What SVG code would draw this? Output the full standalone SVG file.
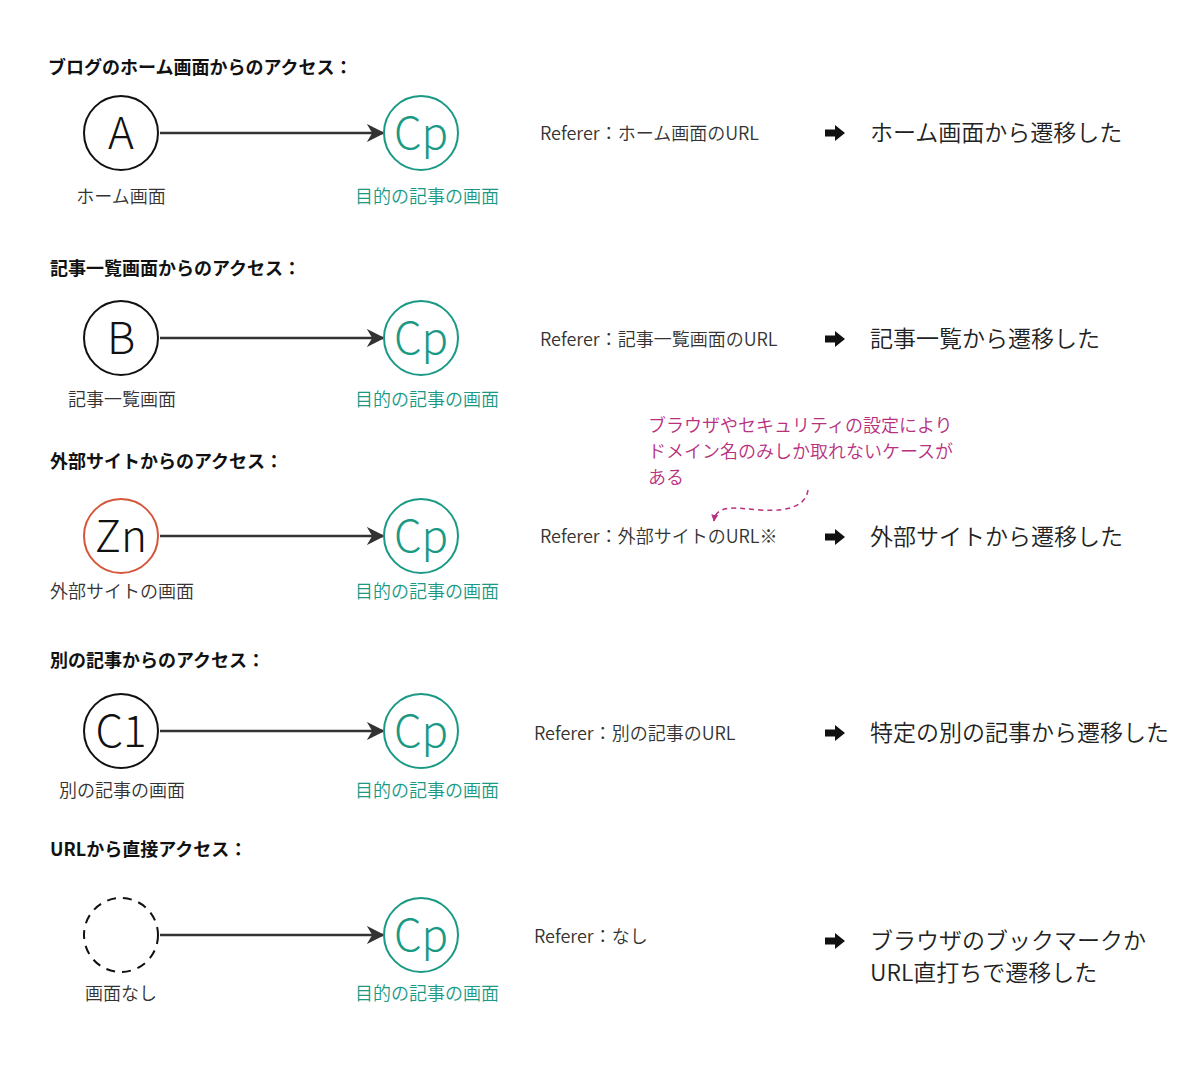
<svg xmlns="http://www.w3.org/2000/svg" width="1200" height="1088" viewBox="0 0 1200 1088">
<defs>
<style>
text{font-family:"Noto Sans CJK JP","Noto Sans",sans-serif;}
.title{font-size:18px;font-weight:bold;fill:#111;}
.big{font-size:44px;font-weight:300;fill:#111;text-anchor:middle;}
.cp{font-size:44px;font-weight:300;fill:#1a9a85;text-anchor:middle;}
.lab{font-size:18px;font-weight:350;fill:#333;text-anchor:middle;}
.tlab{font-size:18px;font-weight:350;fill:#1a9a85;text-anchor:middle;}
.ref{font-size:18px;font-weight:350;fill:#333;}
.res{font-size:23px;font-weight:350;fill:#222;}
.note{font-size:18px;font-weight:350;fill:#b8307e;}
.node{fill:#fff;stroke:#111;stroke-width:2;}
.tnode{fill:#fff;stroke:#1a9a85;stroke-width:2;}
.conn{stroke:#333;stroke-width:2.4;fill:none;}
</style>
<marker id="ah" viewBox="0 0 10 10" refX="9" refY="5" markerWidth="7.5" markerHeight="7.5" markerUnits="strokeWidth" orient="auto">
<path d="M0,0 L10,5 L0,10 L3,5 Z" fill="#333"/>
</marker>
<marker id="mh" viewBox="0 0 10 10" refX="9" refY="5" markerWidth="7" markerHeight="7" markerUnits="userSpaceOnUse" orient="auto">
<path d="M0,0 L10,5 L0,10 Z" fill="#b8307e"/>
</marker>
<path id="fat" d="M0,-3.5 L10,-3.5 L10,-8 L20,0 L10,8 L10,3.5 L0,3.5 Z" fill="#111"/>
</defs>

<g id="connectors">
<line class="conn" x1="160" y1="133" x2="383" y2="133" marker-end="url(#ah)"/>
<line class="conn" x1="160" y1="338" x2="383" y2="338" marker-end="url(#ah)"/>
<line class="conn" x1="160" y1="536" x2="383" y2="536" marker-end="url(#ah)"/>
<line class="conn" x1="160" y1="731" x2="383" y2="731" marker-end="url(#ah)"/>
<line class="conn" x1="160" y1="935" x2="383" y2="935" marker-end="url(#ah)"/>
<path d="M808,490 C806,505 790,512 760,510 C735,508 716,504 714,521" fill="none" stroke="#b8307e" stroke-width="1.5" stroke-dasharray="5,4" marker-end="url(#mh)"/>
</g>

<!-- Section 1 -->
<text class="title" x="48" y="74">ブログのホーム画面からのアクセス：</text>
<g id="nodeA"><circle class="node" cx="121" cy="133" r="37"/><text class="big" x="121" y="149">A</text></g>
<text class="lab" x="121" y="203">ホーム画面</text>
<g id="nodeCp1"><circle class="tnode" cx="421" cy="133" r="37"/><text class="cp" x="421" y="149">Cp</text></g>
<text class="tlab" x="427" y="203">目的の記事の画面</text>
<text class="ref" x="540" y="140">Referer：ホーム画面のURL</text>
<use href="#fat" x="825" y="133"/>
<text class="res" x="870" y="141">ホーム画面から遷移した</text>

<!-- Section 2 -->
<text class="title" x="50" y="275">記事一覧画面からのアクセス：</text>
<g id="nodeB"><circle class="node" cx="121" cy="338" r="37"/><text class="big" x="121" y="354">B</text></g>
<text class="lab" x="122" y="406">記事一覧画面</text>
<g id="nodeCp2"><circle class="tnode" cx="421" cy="338" r="37"/><text class="cp" x="421" y="354">Cp</text></g>
<text class="tlab" x="427" y="406">目的の記事の画面</text>
<text class="ref" x="540" y="346">Referer：記事一覧画面のURL</text>
<use href="#fat" x="825" y="339"/>
<text class="res" x="870" y="347">記事一覧から遷移した</text>

<!-- Section 3 -->
<text class="title" x="50" y="468">外部サイトからのアクセス：</text>
<g id="nodeZn"><circle cx="121" cy="536" r="37" fill="#fff" stroke="#d5573b" stroke-width="2"/><text class="big" x="121" y="552">Zn</text></g>
<text class="lab" x="122" y="598">外部サイトの画面</text>
<g id="nodeCp3"><circle class="tnode" cx="421" cy="536" r="37"/><text class="cp" x="421" y="552">Cp</text></g>
<text class="tlab" x="427" y="598">目的の記事の画面</text>
<g id="note">
<text class="note" x="648" y="432">ブラウザやセキュリティの設定により</text>
<text class="note" x="648" y="458">ドメイン名のみしか取れないケースが</text>
<text class="note" x="648" y="484">ある</text>
</g>
<text class="ref" x="540" y="543">Referer：外部サイトのURL※</text>
<use href="#fat" x="825" y="537"/>
<text class="res" x="870" y="545">外部サイトから遷移した</text>

<!-- Section 4 -->
<text class="title" x="50" y="667">別の記事からのアクセス：</text>
<g id="nodeC1"><circle class="node" cx="121" cy="731" r="37"/><text class="big" x="121" y="747">C1</text></g>
<text class="lab" x="122" y="797">別の記事の画面</text>
<g id="nodeCp4"><circle class="tnode" cx="421" cy="731" r="37"/><text class="cp" x="421" y="747">Cp</text></g>
<text class="tlab" x="427" y="797">目的の記事の画面</text>
<text class="ref" x="534" y="740">Referer：別の記事のURL</text>
<use href="#fat" x="825" y="733"/>
<text class="res" x="870" y="741">特定の別の記事から遷移した</text>

<!-- Section 5 -->
<text class="title" x="50" y="856">URLから直接アクセス：</text>
<g id="nodeNone"><circle cx="121" cy="935" r="37" fill="#fff" stroke="#111" stroke-width="2" stroke-dasharray="9,7"/></g>
<text class="lab" x="121" y="1000">画面なし</text>
<g id="nodeCp5"><circle class="tnode" cx="421" cy="935" r="37"/><text class="cp" x="421" y="951">Cp</text></g>
<text class="tlab" x="427" y="1000">目的の記事の画面</text>
<text class="ref" x="534" y="943">Referer：なし</text>
<use href="#fat" x="825" y="941"/>
<text class="res" x="870" y="949">ブラウザのブックマークか</text>
<text class="res" x="870" y="981">URL直打ちで遷移した</text>
</svg>
